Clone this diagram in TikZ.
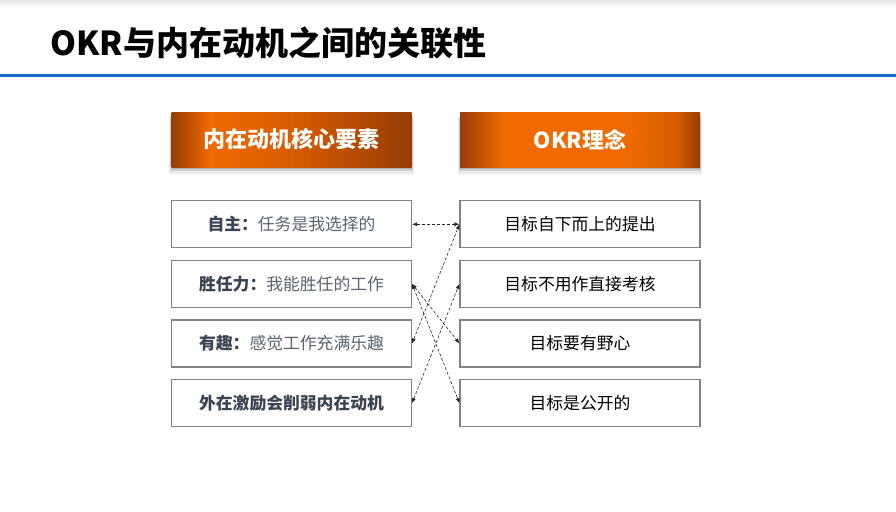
\documentclass[tikz,border=0pt]{standalone}
\usepackage{fontspec}
\setmainfont{Noto Sans CJK SC}
\usepackage{tikz}
\usetikzlibrary{positioning,arrows.meta,shadows}
\definecolor{titleblue}{RGB}{20,112,198}
\definecolor{orlight}{RGB}{240,106,0}
\definecolor{ormid}{RGB}{216,92,0}
\definecolor{ordark}{RGB}{152,60,6}
\definecolor{boxline}{RGB}{130,130,130}
\definecolor{keytext}{RGB}{60,68,82}
\definecolor{softtext}{RGB}{92,100,112}
% header bars: the visible part of a shading is 25bp..75bp
\pgfdeclarehorizontalshading{orbarL}{100bp}{color(0bp)=(ordark); color(25bp)=(ordark);
  color(33bp)=(orlight); color(50bp)=(ormid); color(70bp)=(ordark!80!ormid); color(75bp)=(ordark); color(100bp)=(ordark)}
\pgfdeclarehorizontalshading{orbarR}{100bp}{color(0bp)=(ordark); color(25bp)=(ordark);
  color(34bp)=(orlight); color(60bp)=(orlight); color(70bp)=(ormid); color(75bp)=(ordark); color(100bp)=(ordark)}
\newcommand{\keyw}[1]{{\bfseries\color{keytext}#1}}
\tikzset{
  hdr/.style={rectangle, minimum width=240pt, minimum height=55pt, inner sep=0pt,
              text=white, font=\bfseries\fontsize{22}{26}\selectfont,
              drop shadow={shadow xshift=0pt, shadow yshift=-6pt, shadow scale=1.02, opacity=.08, fill=black},
              drop shadow={shadow xshift=0pt, shadow yshift=-4pt, shadow scale=1.01, opacity=.12, fill=black},
              drop shadow={shadow xshift=0pt, shadow yshift=-2pt, opacity=.15, fill=black}},
  cbox/.style={rectangle, draw=boxline, line width=1.1pt, fill=white,
               minimum width=240pt, minimum height=47pt, inner sep=0pt,
               font=\fontsize{16.8}{20}\selectfont},
  lbox/.style={cbox, text=softtext},
  rbox/.style={cbox, text=black},
  ar/.style={{Latex[length=5pt,width=4pt]}-{Latex[length=5pt,width=4pt]},
             densely dashed, line width=0.6pt, draw=black!85},
}

\begin{document}
\begin{tikzpicture}[node distance=11.5pt]
  \useasboundingbox (0,0) rectangle (896pt,-511pt);
  \shade[top color=black!10, bottom color=white] (0,0) rectangle (896pt,-7pt);
  \node[anchor=west, font=\bfseries\fontsize{33}{38}\selectfont] (title) at (47pt,-43pt)
    {OKR与内在动机之间的关联性};
  \coordinate (ruleL) at (0,-75pt);
  \coordinate (ruleR) at (896pt,-75pt);
  \draw[titleblue, line width=3pt] (ruleL) -- (ruleR);

  \node[hdr, shading=orbarL] (motiv) at (291.5pt,-139.5pt) {内在动机核心要素};
  \node[hdr, shading=orbarR] (okr) at (580pt,-139.5pt) {OKR理念};

  \node[lbox, below=33pt of motiv] (auton) {\keyw{自主：}任务是我选择的};
  \node[lbox, below=of auton] (compet) {\keyw{胜任力：}我能胜任的工作};
  \node[lbox, below=of compet] (fun) {\keyw{有趣：}感觉工作充满乐趣};
  \node[lbox, below=of fun] (extr) {\keyw{外在激励会削弱内在动机}};

  \node[rbox, below=33pt of okr] (bottomup) {目标自下而上的提出};
  \node[rbox, below=of bottomup] (noeval) {目标不用作直接考核};
  \node[rbox, below=of noeval] (ambit) {目标要有野心};
  \node[rbox, below=of ambit] (public) {目标是公开的};

  \draw[ar] (auton.east) -- (bottomup.west);
  \draw[ar] (fun.east) -- (bottomup.west);
  \draw[ar] (compet.east) -- (ambit.west);
  \draw[ar] (compet.east) -- (public.west);
  \draw[ar] (extr.east) -- (noeval.west);
\end{tikzpicture}
\end{document}
